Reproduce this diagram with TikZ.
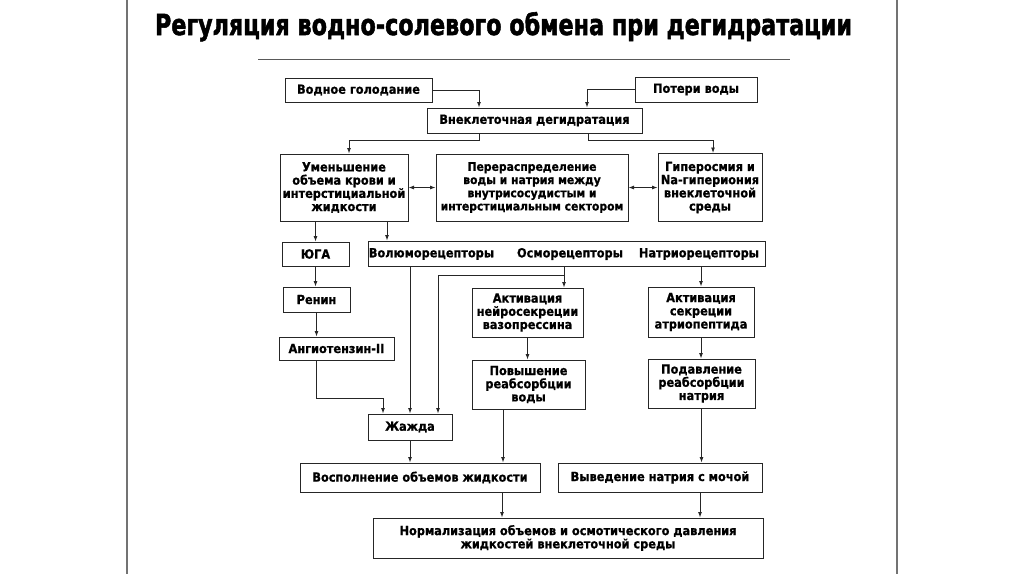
\documentclass[tikz,border=0pt]{standalone}
\usepackage{fontspec}
\usepackage{graphicx}
\setmainfont{DejaVu Sans}
\newfontfamily\boxfont{DejaVu Sans Bold}[FakeBold=0.8, FakeStretch=0.9]
\newfontfamily\titlefont{DejaVu Sans Bold}[FakeBold=2]
\usetikzlibrary{arrows.meta}
\begin{document}
\begin{tikzpicture}[x=1pt,y=-1pt,
  box/.style={draw=black!85, line width=1pt, inner sep=0pt, align=center,
    font=\fontsize{12.6}{13.2}\boxfont, text=black},
  lbl/.style={inner sep=0pt, font=\fontsize{12.6}{13.2}\boxfont, text=black},
  conn/.style={draw=black!85, line width=0.9pt, -{Latex[length=5.5pt,width=4pt]}},
  dconn/.style={draw=black!85, line width=0.9pt, {Latex[length=5.5pt,width=4pt]}-{Latex[length=5.5pt,width=4pt]}},
  frame/.style={draw=black!55, line width=1.8pt},
  scanline/.style={draw=black!65, line width=0.9pt}
]
\useasboundingbox[fill=white] (0,0) rectangle (1024,574);
% page frame
\coordinate (fl1) at (127,0); \coordinate (fl2) at (127,574);
\coordinate (fr1) at (897,0); \coordinate (fr2) at (897,574);
\draw[frame] (fl1) -- (fl2);
\draw[frame] (fr1) -- (fr2);
\coordinate (s1) at (258,59); \coordinate (s2) at (790,59);
\draw[scanline] (s1) -- (s2);
% title
\node[inner sep=0pt, anchor=base] (title) at (503.5,35)
  {\resizebox{697pt}{23pt}{\titlefont Регуляция водно-солевого обмена при дегидратации}};
% boxes
\node[box, minimum width=147pt, minimum height=24pt] (vg) at (358.5,90) {Водное голодание};
\node[box, minimum width=122pt, minimum height=25pt] (pv) at (696,89.5) {Потери воды};
\node[box, minimum width=215pt, minimum height=25pt] (vd) at (534.5,120.5) {Внеклеточная дегидратация};
\node[box, minimum width=128pt, minimum height=67pt] (um) at (344,187.5) {Уменьшение\\объема крови и\\интерстициальной\\жидкости};
\node[box, minimum width=192pt, minimum height=67pt, font=\fontsize{12}{13.2}\boxfont] (pr) at (532,187.5) {Перераспределение\\воды и натрия между\\внутрисосудистым и\\интерстициальным сектором};
\node[box, minimum width=104pt, minimum height=68pt] (gi) at (710,187.5) {Гиперосмия и\\Na-гипериония\\внеклеточной\\среды};
\node[box, minimum width=67pt, minimum height=24pt] (yuga) at (315.5,254) {ЮГА};
\node[box, minimum width=397pt, minimum height=25pt] (rec) at (566.5,253.5) {};
\node[lbl] (rec1) at (431.5,254) {Волюморецепторы};
\node[lbl] (rec2) at (570,254) {Осморецепторы};
\node[lbl] (rec3) at (699,254) {Натриорецепторы};
\node[box, minimum width=67pt, minimum height=25pt] (renin) at (316.5,299.5) {Ренин};
\node[box, minimum width=115pt, minimum height=23pt] (ang) at (336.5,348.5) {Ангиотензин-II};
\node[box, minimum width=111pt, minimum height=49pt] (ans) at (527.5,312.5) {Активация\\нейросекреции\\вазопрессина};
\node[box, minimum width=106pt, minimum height=50pt] (asa) at (701,312) {Активация\\секреции\\атриопептида};
\node[box, minimum width=113pt, minimum height=49pt] (pov) at (528.5,384.5) {Повышение\\реабсорбции\\воды};
\node[box, minimum width=107pt, minimum height=49pt] (pod) at (701.5,383.5) {Подавление\\реабсорбции\\натрия};
\node[box, minimum width=84pt, minimum height=26pt] (zh) at (410,427) {Жажда};
\node[box, minimum width=240pt, minimum height=29pt] (vos) at (420,477.5) {Восполнение объемов жидкости};
\node[box, minimum width=204pt, minimum height=29pt] (vyv) at (660,477.5) {Выведение натрия с мочой};
\node[box, minimum width=390pt, minimum height=40pt] (norm) at (568,538) {Нормализация объемов и осмотического давления\\жидкостей внеклеточной среды};
% connectors
\draw[conn] (vg.east) -| ([xshift=-55.5pt]vd.north);
\draw[conn] (pv.west) -| ([xshift=52.5pt]vd.north);
\draw[conn] ([xshift=-55.5pt]vd.south) -- ++(0,7) -| ([xshift=5pt]um.north);
\draw[conn] ([xshift=53.5pt]vd.south) -- ++(0,7) -| ([xshift=3pt]gi.north);
\draw[dconn] (um.east) -- (pr.west);
\draw[dconn] (pr.east) -- (gi.west);
\draw[conn] (yuga.north |- um.south) -- (yuga.north);
\draw[conn] ([xshift=43pt]um.south) -- ([xshift=43pt]um.south |- rec.north);
\draw[conn] (yuga.south) -- (yuga.south |- renin.north);
\draw[conn] (renin.south) -- (renin.south |- ang.north);
\draw[conn] (renin.south |- ang.south) -- ++(0,38) -| ([xshift=-27pt]zh.north);
\draw[conn] (zh.north |- rec.south) -- (zh.north);
\draw[conn] ([xshift=-2.5pt]rec.south) -- ([xshift=-2.5pt]rec.south |- ans.north);
\draw[conn] ([xshift=-2.5pt,yshift=-9pt]rec.south) -| ([xshift=28pt]zh.north);
\draw[conn] (asa.north |- rec.south) -- (asa.north);
\draw[conn] (ans.south) -- (ans.south |- pov.north);
\draw[conn] (asa.south) -- (asa.south |- pod.north);
\draw[conn] (zh.south) -- (zh.south |- vos.north);
\draw[conn] ([xshift=-25.5pt]pov.south) -- ([xshift=-25.5pt]pov.south |- vos.north);
\draw[conn] (pod.south) -- (pod.south |- vyv.north);
\draw[conn] ([xshift=82pt]vos.south) -- ([xshift=82pt]vos.south |- norm.north);
\draw[conn] ([xshift=40pt]vyv.south) -- ([xshift=40pt]vyv.south |- norm.north);
\end{tikzpicture}
\end{document}
